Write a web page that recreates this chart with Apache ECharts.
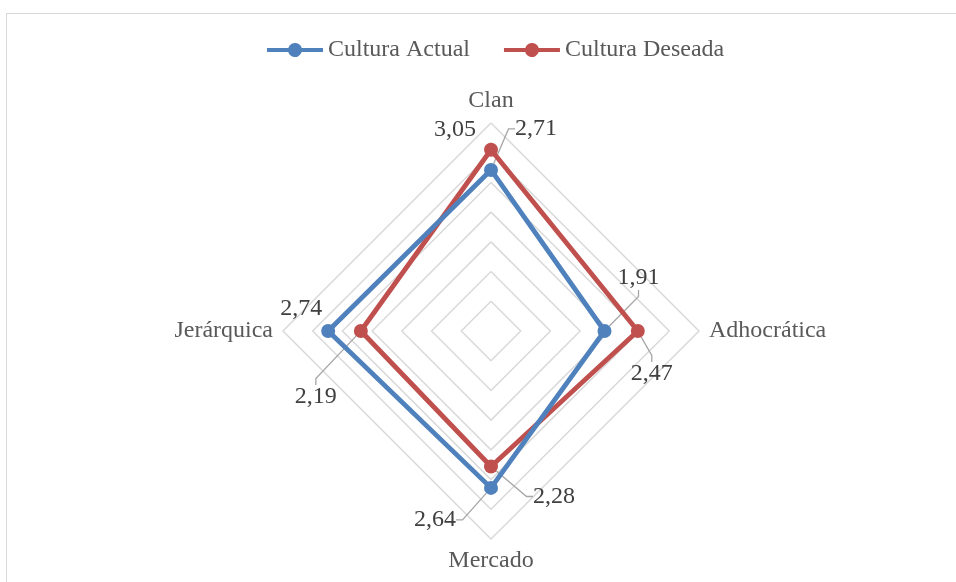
<!DOCTYPE html>
<html>
<head>
<meta charset="utf-8">
<script src="https://cdn.jsdelivr.net/npm/echarts@6/dist/echarts.min.js"></script>
<style>
  html, body { margin: 0; padding: 0; background: #fff; }
  #frame { position: absolute; left: 6px; top: 13px; width: 980px; height: 600px; border: 1px solid #d9d9d9; }
  #chart { position: absolute; left: 0; top: 0; width: 956px; height: 582px; }
</style>
</head>
<body>
<div id="frame"></div>
<div id="chart"></div>
<script>
  // ejes en orden antihorario (ECharts): arriba, izquierda, abajo, derecha
  const categories = ['Clan', 'Jerárquica', 'Mercado', 'Adhocrática'];
  const cultura_actual = [2.71, 2.74, 2.64, 1.91];
  const cultura_deseada = [3.05, 2.19, 2.28, 2.47];
  const seriesNames = ['Cultura Actual', 'Cultura Deseada'];
  // etiquetas que llevan línea guía
  const guia_actual = [true, false, true, true];
  const guia_deseada = [false, true, true, true];

  const CENTER = [491, 331];
  const FONT = '"Liberation Serif", "Times New Roman", serif';
  const BLUE = '#4F81BD';
  const RED = '#C0504D';

  // desplazamiento de cada etiqueta respecto a su punto
  const offsetsActual = { top: [45, -41], right: [34, -53], bottom: [-56, 32], left: [-27, -22] };
  const offsetsDeseada = { top: [-36, -20], right: [14, 43], bottom: [63, 30], left: [-45, 66] };

  function side(rect) {
    const dx = rect.x + rect.width / 2 - CENTER[0];
    const dy = rect.y + rect.height / 2 - CENTER[1];
    if (Math.abs(dy) > Math.abs(dx)) return dy < 0 ? 'top' : 'bottom';
    return dx > 0 ? 'right' : 'left';
  }

  function layoutFor(offsets) {
    return function (p) {
      if (!p.text) return { dx: 0, dy: 0 };
      const o = offsets[side(p.rect)];
      return { dx: o[0], dy: o[1] };
    };
  }

  function fmt(values, mask, wanted) {
    return function (p) {
      const i = values.indexOf(p.value);
      if (i < 0 || mask[i] !== wanted) return '';
      return Number(p.value).toFixed(2).replace('.', ',');
    };
  }

  function labelStyle(formatter) {
    return {
      show: true,
      position: 'inside',
      color: '#404040',
      opacity: 1,
      fontSize: 24,
      fontFamily: FONT,
      formatter: formatter
    };
  }

  function polygonSeries(name, values, mask, color, offsets, z) {
    return {
      name: name,
      type: 'radar',
      symbol: 'circle',
      symbolSize: 14,
      color: color,
      lineStyle: { width: 4.8, color: color },
      itemStyle: { color: color },
      z: z,
      label: labelStyle(fmt(values, mask, false)),
      labelLayout: layoutFor(offsets),
      data: [{ value: values, name: name }]
    };
  }

  // serie invisible que solo lleva las etiquetas con línea guía
  function guideSeries(name, values, mask, offsets) {
    return {
      name: name,
      type: 'radar',
      silent: true,
      symbol: 'circle',
      symbolSize: 14,
      lineStyle: { color: 'rgba(0,0,0,0)', width: 0 },
      itemStyle: { color: 'rgba(0,0,0,0)' },
      z: 1,
      label: labelStyle(fmt(values, mask, true)),
      labelLine: { show: true, length2: 6.5, lineStyle: { color: '#a6a6a6', width: 1.3 } },
      labelLayout: layoutFor(offsets),
      data: [{ value: values, name: name }]
    };
  }

  const legendIcon = 'path://M0,5L21.3,5A7,7 0 0 1 34.7,5L56,5L56,9L34.7,9A7,7 0 0 1 21.3,9L0,9Z';

  const chart = echarts.init(document.getElementById('chart'));

  const option = {
    backgroundColor: 'transparent',
    animation: false,
    legend: {
      top: 33,
      left: 262,
      itemWidth: 56,
      itemHeight: 14,
      itemGap: 34,
      data: [
        { name: seriesNames[0], icon: legendIcon, itemStyle: { color: BLUE } },
        { name: seriesNames[1], icon: legendIcon, itemStyle: { color: RED } }
      ],
      textStyle: { color: '#595959', fontSize: 24, fontFamily: FONT }
    },
    radar: {
      center: CENTER,
      radius: 208,
      startAngle: 90,
      shape: 'polygon',
      splitNumber: 7,
      indicator: categories.map(c => ({ name: c, min: 0, max: 3.5 })),
      axisName: { color: '#595959', fontSize: 24, fontFamily: FONT },
      nameGap: 10,
      axisLine: { show: false },
      axisTick: { show: false },
      axisLabel: { show: false },
      splitArea: { show: false },
      splitLine: { lineStyle: { color: '#d9d9d9', width: 1.5 } }
    },
    series: [
      polygonSeries(seriesNames[0], cultura_actual, guia_actual, BLUE, offsetsActual, 3),
      polygonSeries(seriesNames[1], cultura_deseada, guia_deseada, RED, offsetsDeseada, 2),
      guideSeries(seriesNames[0], cultura_actual, guia_actual, offsetsActual),
      guideSeries(seriesNames[1], cultura_deseada, guia_deseada, offsetsDeseada)
    ]
  };

  chart.setOption(option);
</script>
</body>
</html>
